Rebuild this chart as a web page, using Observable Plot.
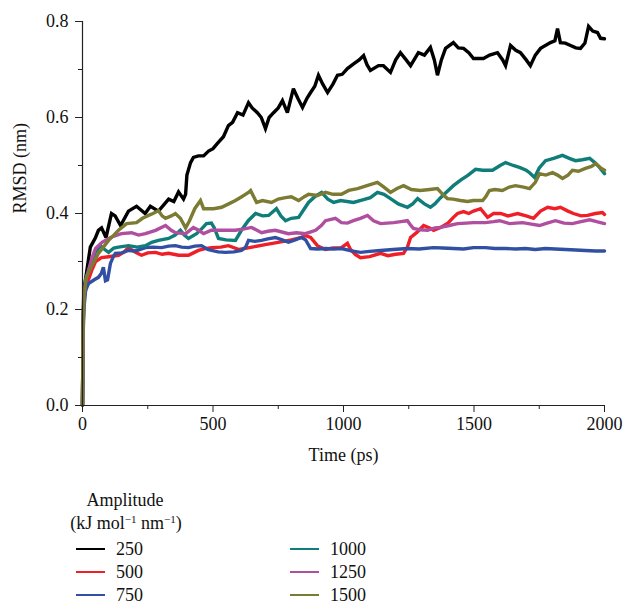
<!DOCTYPE html>
<html>
<head>
<meta charset="utf-8">
<script src="https://cdn.jsdelivr.net/npm/d3@7"></script>
<script src="https://cdn.jsdelivr.net/npm/@observablehq/plot@0.6"></script>
<style>
  html, body { margin: 0; padding: 0; background: #fff; }
  #wrap { position: relative; width: 628px; height: 603px; font-family: "Liberation Serif", "DejaVu Serif", serif; }
  #legend { position: absolute; left: 0; top: 475px; width: 628px; height: 128px; font-size: 18px; color: #111; }
  #legend .t { position: absolute; white-space: nowrap; transform: translate(-50%, -50%); }
  #legend .lab { position: absolute; white-space: nowrap; transform: translateY(-50%); }
  #legend .sw { position: absolute; height: 1.5px; width: 29px; }
  sup { font-size: 11px; vertical-align: 6px; }
</style>
</head>
<body>
<div id="wrap">
  <div id="chart"></div>
  <div id="legend"></div>
</div>
<script>
// ---- data (time in ps, RMSD in nm) ----
const amplitudes = ["250", "500", "750", "1000", "1250", "1500"];

const s250 = [[0,0],[2,0.16],[5,0.24],[15,0.275],[30,0.33],[50,0.35],[61,0.365],[73,0.37],[90,0.35],[111,0.40],[125,0.395],[146,0.375],[176,0.405],[207,0.415],[240,0.40],[260,0.415],[291,0.405],[330,0.43],[350,0.425],[368,0.445],[387,0.43],[395,0.44],[400,0.48],[414,0.506],[425,0.517],[444,0.52],[464,0.52],[483,0.53],[500,0.535],[517,0.546],[540,0.56],[559,0.583],[575,0.59],[594,0.61],[615,0.605],[636,0.631],[650,0.62],[670,0.61],[685,0.6],[701,0.577],[715,0.6],[732,0.61],[750,0.62],[766,0.635],[785,0.61],[808,0.66],[825,0.64],[843,0.621],[860,0.64],[874,0.652],[890,0.665],[904,0.688],[920,0.67],[939,0.652],[960,0.67],[977,0.688],[995,0.69],[1015,0.702],[1040,0.712],[1060,0.72],[1077,0.729],[1090,0.71],[1103,0.698],[1134,0.708],[1153,0.708],[1180,0.694],[1200,0.72],[1218,0.735],[1240,0.72],[1257,0.708],[1287,0.735],[1310,0.73],[1333,0.746],[1348,0.72],[1360,0.688],[1375,0.72],[1391,0.744],[1421,0.756],[1440,0.745],[1460,0.744],[1480,0.735],[1498,0.723],[1536,0.723],[1560,0.73],[1590,0.735],[1610,0.72],[1621,0.708],[1640,0.75],[1660,0.74],[1678,0.735],[1700,0.72],[1716,0.708],[1735,0.73],[1755,0.744],[1793,0.756],[1810,0.76],[1820,0.785],[1831,0.756],[1850,0.755],[1870,0.75],[1890,0.745],[1908,0.744],[1925,0.755],[1939,0.79],[1955,0.78],[1973,0.777],[1985,0.765],[2000,0.764]];

const s500 = [[0,0],[2,0.15],[5,0.22],[15,0.25],[35,0.281],[50,0.30],[73,0.308],[100,0.31],[138,0.313],[160,0.32],[176,0.329],[200,0.32],[226,0.313],[250,0.318],[280,0.319],[305,0.315],[330,0.317],[368,0.313],[406,0.313],[425,0.318],[444,0.323],[470,0.327],[494,0.329],[530,0.33],[559,0.333],[600,0.325],[650,0.33],[700,0.335],[750,0.34],[800,0.345],[840,0.35],[854,0.354],[874,0.35],[900,0.333],[930,0.325],[960,0.328],[992,0.329],[1015,0.338],[1027,0.325],[1045,0.315],[1065,0.308],[1100,0.31],[1142,0.317],[1170,0.312],[1200,0.315],[1230,0.317],[1245,0.33],[1257,0.35],[1280,0.36],[1307,0.375],[1330,0.37],[1345,0.365],[1372,0.371],[1400,0.38],[1421,0.392],[1437,0.40],[1460,0.404],[1480,0.40],[1498,0.405],[1525,0.41],[1552,0.392],[1575,0.40],[1602,0.40],[1630,0.395],[1667,0.40],[1700,0.395],[1728,0.39],[1755,0.405],[1782,0.413],[1810,0.41],[1831,0.413],[1860,0.405],[1881,0.40],[1910,0.395],[1935,0.396],[1965,0.40],[1992,0.402],[2000,0.398]];

const s750 = [[0,0],[2,0.13],[5,0.2],[12,0.24],[23,0.254],[45,0.262],[61,0.267],[72,0.275],[80,0.288],[88,0.26],[96,0.262],[107,0.296],[118,0.31],[126,0.317],[150,0.318],[176,0.323],[203,0.322],[241,0.329],[270,0.33],[303,0.329],[330,0.332],[356,0.333],[380,0.33],[406,0.329],[430,0.332],[456,0.333],[480,0.325],[494,0.323],[520,0.32],[548,0.319],[580,0.32],[609,0.323],[625,0.33],[636,0.344],[660,0.342],[686,0.344],[710,0.347],[739,0.35],[765,0.345],[789,0.34],[815,0.345],[839,0.35],[855,0.345],[874,0.327],[900,0.326],[931,0.327],[960,0.326],[992,0.327],[1030,0.322],[1065,0.319],[1100,0.321],[1142,0.323],[1190,0.325],[1245,0.327],[1290,0.326],[1345,0.329],[1380,0.328],[1421,0.327],[1460,0.326],[1498,0.329],[1544,0.329],[1580,0.327],[1621,0.327],[1660,0.326],[1697,0.327],[1735,0.325],[1774,0.327],[1810,0.326],[1851,0.325],[1890,0.324],[1927,0.323],[1965,0.322],[2000,0.322]];

const s1000 = [[0,0],[2,0.15],[5,0.22],[15,0.267],[35,0.30],[50,0.32],[69,0.333],[85,0.325],[100,0.319],[120,0.328],[138,0.33],[176,0.333],[210,0.33],[241,0.333],[265,0.34],[291,0.344],[330,0.348],[355,0.355],[375,0.365],[390,0.355],[406,0.348],[437,0.358],[460,0.37],[475,0.379],[494,0.38],[505,0.37],[521,0.348],[550,0.345],[586,0.344],[609,0.365],[635,0.385],[663,0.40],[690,0.395],[713,0.396],[743,0.41],[760,0.395],[778,0.385],[800,0.39],[828,0.392],[850,0.41],[866,0.423],[890,0.435],[916,0.444],[940,0.43],[962,0.423],[989,0.427],[1038,0.423],[1070,0.428],[1103,0.433],[1130,0.444],[1155,0.44],[1180,0.431],[1210,0.42],[1245,0.413],[1265,0.42],[1284,0.431],[1310,0.42],[1333,0.413],[1350,0.42],[1372,0.433],[1395,0.445],[1421,0.458],[1450,0.47],[1475,0.479],[1506,0.492],[1533,0.49],[1571,0.49],[1600,0.50],[1621,0.506],[1650,0.50],[1674,0.496],[1700,0.49],[1713,0.485],[1732,0.475],[1750,0.495],[1774,0.51],[1805,0.515],[1839,0.521],[1865,0.515],[1889,0.51],[1915,0.512],[1943,0.515],[1965,0.505],[1981,0.496],[2000,0.483]];

const s1250 = [[0,0],[2,0.14],[5,0.22],[12,0.26],[23,0.281],[35,0.305],[50,0.327],[75,0.34],[107,0.35],[149,0.358],[188,0.36],[215,0.355],[241,0.358],[280,0.365],[318,0.375],[340,0.365],[356,0.36],[395,0.358],[425,0.371],[445,0.365],[464,0.358],[494,0.365],[533,0.365],[586,0.365],[620,0.368],[648,0.371],[686,0.36],[710,0.363],[739,0.365],[789,0.358],[820,0.36],[854,0.358],[893,0.365],[915,0.375],[931,0.385],[969,0.39],[992,0.381],[1015,0.38],[1038,0.385],[1065,0.39],[1092,0.396],[1115,0.385],[1142,0.379],[1192,0.381],[1220,0.383],[1245,0.385],[1258,0.375],[1268,0.369],[1295,0.366],[1322,0.365],[1350,0.37],[1372,0.371],[1405,0.375],[1437,0.379],[1470,0.38],[1498,0.381],[1544,0.381],[1575,0.383],[1598,0.385],[1636,0.379],[1660,0.38],[1686,0.381],[1720,0.378],[1751,0.375],[1780,0.38],[1812,0.385],[1845,0.38],[1877,0.379],[1910,0.383],[1943,0.387],[1970,0.383],[2000,0.379]];

const s1500 = [[0,0],[2,0.15],[5,0.23],[15,0.267],[35,0.29],[61,0.317],[80,0.33],[100,0.344],[120,0.355],[138,0.365],[169,0.379],[207,0.381],[230,0.39],[253,0.396],[270,0.40],[291,0.406],[305,0.395],[318,0.39],[340,0.395],[356,0.40],[375,0.39],[395,0.37],[410,0.385],[430,0.41],[452,0.427],[464,0.41],[483,0.41],[502,0.41],[533,0.413],[560,0.42],[586,0.427],[610,0.435],[636,0.444],[644,0.448],[667,0.423],[690,0.427],[724,0.423],[750,0.43],[778,0.433],[800,0.435],[828,0.427],[850,0.435],[866,0.44],[900,0.4375],[931,0.444],[960,0.44],[992,0.44],[1020,0.448],[1054,0.452],[1090,0.458],[1130,0.465],[1155,0.455],[1180,0.444],[1205,0.452],[1230,0.458],[1260,0.45],[1295,0.448],[1330,0.45],[1360,0.452],[1380,0.44],[1398,0.431],[1420,0.43],[1448,0.427],[1475,0.425],[1498,0.427],[1533,0.427],[1545,0.435],[1559,0.448],[1580,0.45],[1609,0.448],[1635,0.455],[1659,0.458],[1690,0.455],[1713,0.452],[1735,0.465],[1751,0.483],[1775,0.48],[1801,0.485],[1820,0.48],[1839,0.473],[1860,0.48],[1877,0.49],[1900,0.488],[1927,0.494],[1950,0.498],[1966,0.504],[1985,0.495],[2000,0.49]];

const seriesValues = [s250, s500, s750, s1000, s1250, s1500];
const xMajorTicks = [0, 500, 1000, 1500, 2000];
const xMinorTicks = [250, 750, 1250, 1750];
const yMajorTicks = [0, 0.2, 0.4, 0.6, 0.8];
const yMinorTicks = [0.1, 0.3, 0.5, 0.7];

// ---- styles ----
const colors = ["#000000", "#ee1f26", "#3150a3", "#0f7d79", "#b04f9f", "#7b7b33"];

const rows = [];
seriesValues.forEach((s, i) => s.forEach(([t, v]) => rows.push({amp: amplitudes[i], t, v})));

const fmtY = d => d3.format(".1f")(d);
const fmtX = d => d3.format("d")(d);

const chart = Plot.plot({
  width: 628,
  height: 475,
  marginLeft: 82,
  marginRight: 24,
  marginTop: 21,
  marginBottom: 70,
  style: {fontFamily: "'Liberation Serif', 'DejaVu Serif', serif", fontSize: "18px", color: "#111", background: "#fff"},
  x: {domain: [0, 2000]},
  y: {domain: [0, 0.8]},
  color: {domain: amplitudes, range: colors},
  marks: [
    Plot.line(rows, {x: "t", y: "v", z: "amp", stroke: "amp", strokeWidth: 3.4, strokeLinejoin: "miter", strokeMiterlimit: 3, curve: "linear"}),
    Plot.ruleX([0], {y1: 0, y2: 0.8, stroke: "#222", strokeWidth: 1.2}),
    Plot.ruleY([0], {x1: 0, x2: 2000, stroke: "#222", strokeWidth: 1.2}),
    Plot.axisX({ticks: xMajorTicks, tickSize: 7, tickPadding: 5, tickFormat: fmtX, label: null, stroke: "#222", fill: "#111"}),
    Plot.axisX({ticks: xMinorTicks, tickSize: 4, tickFormat: () => "", label: null, stroke: "#222"}),
    Plot.axisY({ticks: yMajorTicks, tickSize: 7, tickPadding: 7, tickFormat: fmtY, label: null, stroke: "#222", fill: "#111"}),
    Plot.axisY({ticks: yMinorTicks, tickSize: 4, tickFormat: () => "", label: null, stroke: "#222"}),
    Plot.text(["RMSD (nm)"], {frameAnchor: "left", dx: -62, rotate: -90, fontSize: 18, fill: "#111"}),
    Plot.text(["Time (ps)"], {frameAnchor: "bottom", dy: 55, fontSize: 18, fill: "#111"})
  ]
});
document.getElementById("chart").appendChild(chart);

// ---- legend (HTML, below the SVG) ----
const leg = d3.select("#legend");
leg.append("div").attr("class", "t").style("left", "125px").style("top", "25px").text("Amplitude");
leg.append("div").attr("class", "t").style("left", "126px").style("top", "48px")
  .html("(kJ mol<sup>−1</sup> nm<sup>−1</sup>)");
amplitudes.forEach((a, i) => {
  const col = Math.floor(i / 3), row = i % 3;
  const x0 = col === 0 ? 76 : 290;
  const y0 = 74 + row * 23;
  leg.append("div").attr("class", "sw").style("left", x0 + "px").style("top", (y0 - 1) + "px").style("background", colors[i]);
  leg.append("div").attr("class", "lab").style("left", (x0 + 40) + "px").style("top", y0 + "px").text(a);
});
</script>
</body>
</html>
